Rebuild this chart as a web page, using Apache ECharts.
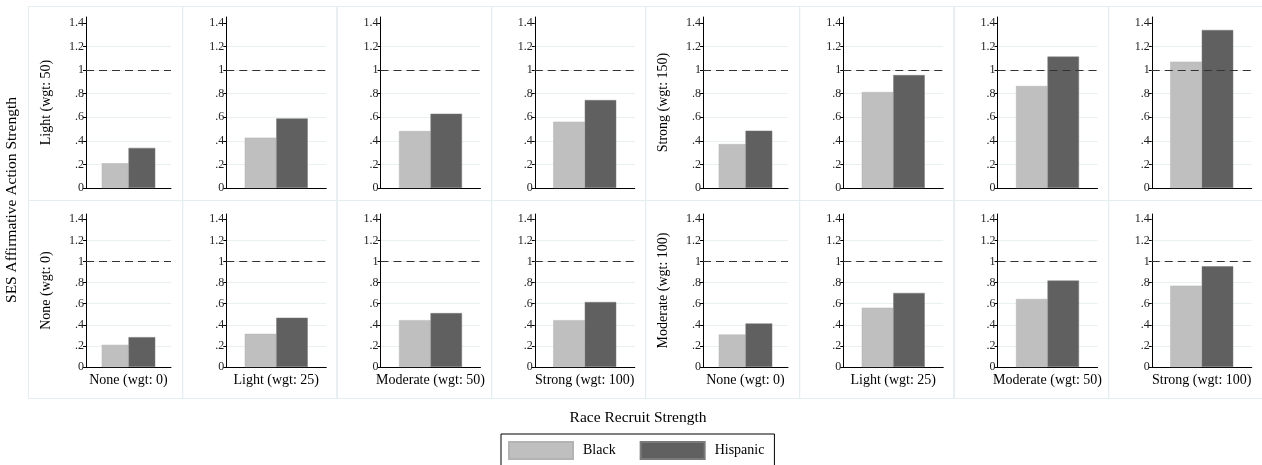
<!DOCTYPE html>
<html>
<head>
<meta charset="utf-8">
<script src="https://cdn.jsdelivr.net/npm/echarts@6/dist/echarts.min.js"></script>
<style>
  html, body { margin: 0; padding: 0; background: #fff; }
  #chart { width: 1262px; height: 465px; }
</style>
</head>
<body>
<div id="chart"></div>
<script>
// Race recruit strength levels (columns within each block)
const raceLevels = ['None (wgt: 0)', 'Light (wgt: 25)', 'Moderate (wgt: 50)', 'Strong (wgt: 100)'];
// SES affirmative action strength levels
const sesLevels = ['None (wgt: 0)', 'Light (wgt: 50)', 'Moderate (wgt: 100)', 'Strong (wgt: 150)'];

// Ratios by SES level (rows follow sesLevels, entries follow raceLevels)
const blackBySes = [
  [0.21, 0.314, 0.444, 0.444],
  [0.21, 0.427, 0.483, 0.562],
  [0.308, 0.562, 0.645, 0.771],
  [0.373, 0.814, 0.865, 1.071]
];
const hispanicBySes = [
  [0.283, 0.467, 0.511, 0.616],
  [0.34, 0.59, 0.63, 0.746],
  [0.413, 0.702, 0.819, 0.955],
  [0.486, 0.958, 1.114, 1.34]
];

// Which SES level sits in each block: [row][left block, right block]
const blockSes = [[1, 3], [0, 2]];

const tickValues = [0, 0.2, 0.4, 0.6, 0.8, 1, 1.2, 1.4];
const tickLabels = ['0', '.2', '.4', '.6', '.8', '1', '1.2', '1.4'];
const parityLevel = 1;

const serif = '"Liberation Serif", "DejaVu Serif", serif';
const chart = echarts.init(document.getElementById('chart'));

const grids = [], xAxes = [], yAxes = [], series = [], graphics = [];
const panelW = 154.25;
const rowBox = [{ y: 6, h: 194 }, { y: 200, h: 198 }];
const rowGrid = [{ top: 17, height: 171 }, { top: 214, height: 153 }];

for (let r = 0; r < 2; r++) {
  for (let c = 0; c < 8; c++) {
    const i = r * 8 + c;
    const block = c < 4 ? 0 : 1;
    const raceIdx = c % 4;
    const sesIdx = blockSes[r][block];
    const labelled = raceIdx === 0;
    const px = 28 + c * panelW;

    graphics.push({
      type: 'rect', silent: true, z: -1,
      shape: { x: Math.round(px) + 0.5, y: rowBox[r].y + 0.5, width: panelW, height: rowBox[r].h },
      style: { fill: 'none', stroke: '#e4edef', lineWidth: 1 }
    });

    grids.push({
      left: px + (labelled ? 58 : 44),
      width: labelled ? 85 : 100,
      top: rowGrid[r].top,
      height: rowGrid[r].height
    });

    xAxes.push({
      gridIndex: i, type: 'category', data: [raceLevels[raceIdx]],
      axisLine: { show: true, lineStyle: { color: '#000', width: 1 } },
      axisTick: { show: false },
      axisLabel: { show: r === 1, fontFamily: serif, fontSize: 14, color: '#000', margin: 6 },
      splitLine: { show: false }
    });

    yAxes.push({
      gridIndex: i, type: 'value', min: 0, max: 1.45, interval: 0.2,
      name: labelled ? sesLevels[sesIdx] : '',
      nameLocation: 'middle', nameRotate: 90, nameGap: 33,
      nameTextStyle: { fontFamily: serif, fontSize: 14, color: '#000' },
      axisLine: { show: true, lineStyle: { color: '#000', width: 1 } },
      axisTick: { show: true, length: 3, customValues: tickValues, lineStyle: { color: '#000' } },
      axisLabel: {
        customValues: tickValues, margin: 2, fontFamily: serif, fontSize: 12, color: '#222',
        formatter: v => {
          const k = tickValues.findIndex(t => Math.abs(t - v) < 1e-6);
          return k < 0 ? '' : tickLabels[k];
        }
      },
      splitLine: { show: true, showMinLine: false, showMaxLine: false, lineStyle: { color: '#e8f0f2', width: 1 } }
    });

    // dashed parity reference, drawn beneath the bars
    series.push({
      type: 'line', xAxisIndex: i, yAxisIndex: i, data: [], z: 1, silent: true,
      markLine: {
        silent: true, symbol: ['none', 'none'], label: { show: false },
        lineStyle: { type: [8, 5], color: '#333', width: 1.2 },
        data: [{ yAxis: parityLevel }]
      }
    });
    series.push({
      type: 'bar', name: 'Black', xAxisIndex: i, yAxisIndex: i, z: 3,
      data: [blackBySes[sesIdx][raceIdx]],
      barGap: 0, barCategoryGap: '37%',
      itemStyle: { color: '#bfbfbf', borderColor: '#b3b3b3', borderWidth: 0.5 }
    });
    series.push({
      type: 'bar', name: 'Hispanic', xAxisIndex: i, yAxisIndex: i, z: 3,
      data: [hispanicBySes[sesIdx][raceIdx]],
      barGap: 0, barCategoryGap: '37%',
      itemStyle: { color: '#606060', borderColor: '#7a7a7a', borderWidth: 0.5 }
    });
  }
}

graphics.push({
  type: 'text', silent: true, x: 12, y: 200, rotation: Math.PI / 2,
  style: { text: 'SES Affirmative Action Strength', font: '15.5px ' + serif, fill: '#000', align: 'center', verticalAlign: 'middle' }
});
graphics.push({
  type: 'text', silent: true, x: 638, y: 418,
  style: { text: 'Race Recruit Strength', font: '15.5px ' + serif, fill: '#000', align: 'center', verticalAlign: 'middle' }
});

chart.setOption({
  animation: false,
  backgroundColor: '#fff',
  grid: grids,
  xAxis: xAxes,
  yAxis: yAxes,
  series: series,
  graphic: graphics,
  legend: {
    data: ['Black', 'Hispanic'],
    selectedMode: false,
    left: 501, top: 434,
    icon: 'rect', itemWidth: 64, itemHeight: 17, itemGap: 24,
    padding: [7, 10, 6, 7],
    borderColor: '#000', borderWidth: 1,
    textStyle: { fontFamily: serif, fontSize: 14, color: '#000', padding: [0, 0, 0, 5] }
  }
});
</script>
</body>
</html>
